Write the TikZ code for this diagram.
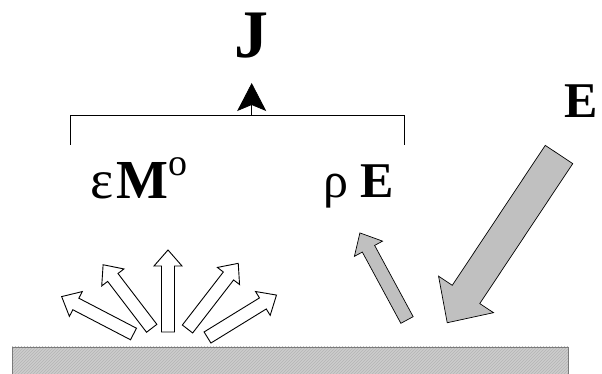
\documentclass[tikz,border=0pt]{standalone}
\usepackage{fontspec}
\setmainfont{Liberation Serif}
\usetikzlibrary{arrows.meta,patterns}
\definecolor{slab}{HTML}{CDCDCD}
\definecolor{slabline}{HTML}{B4B4B4}
\definecolor{slabedge}{HTML}{7A7A7A}
\definecolor{field}{HTML}{C0C0C0}

\begin{document}
\begin{tikzpicture}[x=1pt,y=1pt,
  lbl/.style={inner sep=0pt,font=\fontsize{50}{56}\selectfont},
  fanarrow/.style={draw=black,fill=white,line width=0.9pt},
  fieldarrow/.style={draw=black,fill=field,line width=0.7pt}]
  \useasboundingbox (0,0) rectangle (602,374);

  % Surface
  \fill[slab] (12,-5) rectangle (568,27);
  \path[pattern=north east lines,pattern color=slabline] (12,-5) rectangle (568,27);
  \draw[slabedge,line width=0.8pt] (12,-5) -- (12,27) -- (568,27) -- (568,-5);

  % Labels
  \node[lbl,anchor=base] (J) at (251.5,316) {\fontsize{68}{72}\selectfont\textbf{J}};
  \node[lbl,anchor=base west] (Efield) at (564,256) {\textbf{E}};
  \node[lbl,anchor=base west,font=\fontsize{55}{60}\selectfont] (epsM) at (90,175)
    {ε\hspace{3pt}\textbf{M}\raisebox{23pt}{\fontsize{38}{42}\selectfont o}};
  \node[lbl,anchor=base west] (rhoE) at (323,176) {ρ\hspace{12pt}\textbf{E}};

  % Bracket with arrow up to J
  \coordinate (brL) at (70,229);
  \coordinate (brR) at (404,229);
  \coordinate (brM) at (251.7,259);
  \coordinate (jtip) at (251.7,291);
  \draw[line width=0.8pt] (brL) -- ++(0,30) -| (brR);
  \draw[line width=0.8pt,-{Stealth[length=28pt,width=29pt,inset=6pt]}] (brM) -- (jtip);

  % Emitted radiation fan (tail x/y/angle/length)
  \foreach \x/\y/\a/\l in {133.5/40/152.5/81, 151.7/45.7/127.4/80, 168/42/90/82,
                           187.5/45/52.3/83, 207.5/36.5/31.6/81} {
    \begin{scope}[shift={(\x,\y)},rotate=\a]
      \draw[fanarrow] (0,-6.5) -- (\l-16,-6.5) -- (\l-16,-14) -- (\l,0)
        -- (\l-16,14) -- (\l-16,6.5) -- (0,6.5) -- cycle;
    \end{scope}
  }

  % Reflected part
  \begin{scope}[shift={(407,54)},rotate=118.4]
    \draw[fieldarrow] (0,-7) -- (81,-7) -- (81,-16) -- (99,0)
      -- (81,16) -- (81,7) -- (0,7) -- cycle;
  \end{scope}

  % Incident field
  \begin{scope}[shift={(559,219.5)},rotate=236.4]
    \draw[fieldarrow] (0,-16.5) -- (168,-16.5) -- (168,-33) -- (202,0)
      -- (168,33) -- (168,16.5) -- (0,16.5) -- cycle;
  \end{scope}
\end{tikzpicture}
\end{document}
